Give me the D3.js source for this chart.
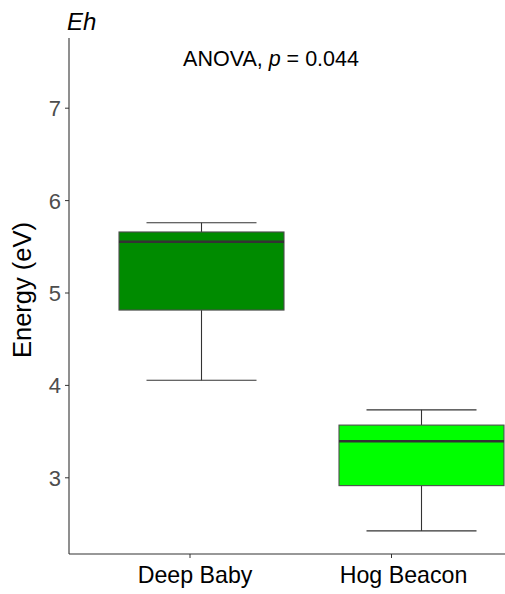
<!DOCTYPE html>
<html><head><meta charset="utf-8">
<script src="https://cdn.jsdelivr.net/npm/d3@7"></script>
<style>body{margin:0;background:#fff;}svg{display:block;font-family:"Liberation Sans",Arial,sans-serif;}</style>
</head><body>
<script>
const categories = ["Deep Baby", "Hog Beacon"];
const whiskerLow = [4.05, 2.42];
const q1 = [4.81, 2.91];
const median = [5.55, 3.39];
const q3 = [5.655, 3.565];
const whiskerHigh = [5.755, 3.73];
const fills = ["#008B00", "#00FF00"];
const yTicks = [3, 4, 5, 6, 7];

const W = 505, H = 594;
const svg = d3.select("body").append("svg").attr("width", W).attr("height", H);

const y = d3.scaleLinear().domain([3, 7]).range([477.3, 107.7]);
const xAxisScale = d3.scalePoint().domain(categories).range([189.5, 391]);
const xLabel = d3.scalePoint().domain(categories).range([194.5, 403]);
const xBox = d3.scalePoint().domain(categories).range([201.5, 421.5]);
const boxW = 165, capW = 110;
const axisX = 69, axisBottom = 554, axisTop = 38;

// boxes
const g = svg.append("g");
categories.forEach((c, i) => {
  const cx = xBox(c);
  g.append("line").attr("x1", cx).attr("x2", cx).attr("y1", y(q3[i])).attr("y2", y(whiskerHigh[i])).attr("stroke", "#333").attr("stroke-width", 1.1);
  g.append("line").attr("x1", cx).attr("x2", cx).attr("y1", y(q1[i])).attr("y2", y(whiskerLow[i])).attr("stroke", "#333").attr("stroke-width", 1.1);
  g.append("line").attr("x1", cx - capW/2).attr("x2", cx + capW/2).attr("y1", y(whiskerHigh[i])).attr("y2", y(whiskerHigh[i])).attr("stroke", "#333").attr("stroke-width", 1.1);
  g.append("line").attr("x1", cx - capW/2).attr("x2", cx + capW/2).attr("y1", y(whiskerLow[i])).attr("y2", y(whiskerLow[i])).attr("stroke", "#333").attr("stroke-width", 1.1);
  g.append("rect").attr("x", cx - boxW/2).attr("y", y(q3[i])).attr("width", boxW).attr("height", y(q1[i]) - y(q3[i]))
    .attr("fill", fills[i]).attr("stroke", "#4d4d4d").attr("stroke-width", 1.1);
  g.append("line").attr("x1", cx - boxW/2).attr("x2", cx + boxW/2).attr("y1", y(median[i])).attr("y2", y(median[i])).attr("stroke", "#333").attr("stroke-width", 2.6);
});

// y axis
const yAxis = svg.append("g").attr("transform", `translate(${axisX},0)`)
  .call(d3.axisLeft(y).tickValues(yTicks).tickSize(4).tickPadding(4).tickFormat(d3.format("d")));
yAxis.select(".domain").remove();
yAxis.append("line").attr("x1", 0).attr("x2", 0).attr("y1", axisTop).attr("y2", axisBottom).attr("stroke", "#333").attr("stroke-width", 1.1);
yAxis.selectAll(".tick line").attr("stroke", "#333");
yAxis.selectAll(".tick text").attr("fill", "#4d4d4d").attr("font-size", 22).attr("font-family", "Liberation Sans, Arial, sans-serif").attr("dy", "0.36em");

// x axis
const xAxis = svg.append("g").attr("transform", `translate(0,${axisBottom})`)
  .call(d3.axisBottom(xAxisScale).tickSize(4).tickPadding(9));
xAxis.select(".domain").remove();
xAxis.append("line").attr("x1", axisX).attr("x2", W).attr("y1", 0).attr("y2", 0).attr("stroke", "#333").attr("stroke-width", 1.1);
xAxis.selectAll(".tick line").attr("stroke", "#333");
xAxis.selectAll(".tick text").attr("fill", "#000").attr("font-size", 23.2).attr("font-family", "Liberation Sans, Arial, sans-serif")
  .attr("x", d => xLabel(d) - xAxisScale(d));

// y title
svg.append("text").attr("transform", "translate(31,290) rotate(-90)").attr("text-anchor", "middle")
  .attr("font-size", 25.5).attr("fill", "#000").text("Energy (eV)");

// title
svg.append("text").attr("x", 67).attr("y", 30).attr("font-size", 24).attr("font-style", "italic").attr("fill", "#000").text("Eh");

// ANOVA
const an = svg.append("text").attr("x", 271).attr("y", 66).attr("text-anchor", "middle").attr("font-size", 21.5).attr("fill", "#000");
an.append("tspan").text("ANOVA, ");
an.append("tspan").attr("font-style", "italic").text("p");
an.append("tspan").text(" = 0.044");
</script>
</body></html>
